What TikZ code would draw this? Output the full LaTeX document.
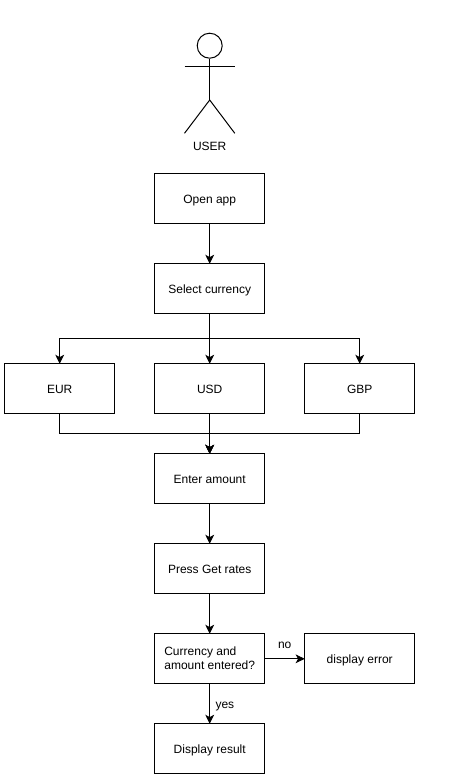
\documentclass[tikz,border=0pt]{standalone}
\usepackage{fontspec}
\setmainfont{Liberation Sans}
\usetikzlibrary{calc}
\usetikzlibrary{arrows.meta, positioning}

\begin{document}
\begin{tikzpicture}[
    x=0.75pt, y=-0.75pt,
    node distance=30pt,
    box/.style={rectangle, draw=black, line width=0.75pt, align=left, font=\fontsize{9}{10.8}\selectfont, minimum width=82.5pt, minimum height=37.5pt, inner sep=0pt, outer sep=0pt, text height=7pt, text depth=0pt},
    tag/.style={font=\fontsize{9}{10.8}\selectfont, inner sep=0pt},
    limb/.style={line width=0.75pt},
    arrow/.style={-{Stealth[length=6.8pt, width=6.6pt, inset=1.8pt]}, line width=0.75pt}
]
\useasboundingbox (0,0) rectangle (457,779);

% Actor
\node (head) [circle, draw=black, line width=0.75pt, minimum size=18.75pt, inner sep=0pt] at (209.7,45.7) {};
\coordinate (hip) at (209.7,100);
\coordinate (armLeft) at (184.5,66.8);
\coordinate (armRight) at (234.8,66.8);
\coordinate (footLeft) at (184.5,133.3);
\coordinate (footRight) at (234.8,133.3);
\node (user) [tag] at (209.7,146.5) {USER};
\draw[limb] (head.south) -- (hip);
\draw[limb] (armLeft) -- (armRight);
\draw[limb] (footLeft) -- (hip) -- (footRight);

% Nodes
\node (openApp) [box] at (209.7,198.8) {Open app};
\node (selectCurrency) [box, below=of openApp] {Select currency};

% Currency choices
\node (usd) [box, below=37.5pt of selectCurrency] {USD};
\node (eur) [box, left=of usd] {EUR};
\node (gbp) [box, right=of usd] {GBP};

\node (enterAmount) [box, below=of usd] {Enter amount};
\node (pressRates) [box, below=of enterAmount] {Press Get rates};
\node (entered) [box, below=of pressRates, text height=16.5pt] {Currency and\\amount entered?};
\node (displayError) [box, right=of entered] {display error};
\node (displayResult) [box, below=of entered] {Display result};

% Arrows
\draw[arrow] (openApp) -- (selectCurrency);
\draw[arrow] (selectCurrency) -- (usd);
\draw[arrow] (selectCurrency.south) -- ++(0,25) -| (eur.north);
\draw[arrow] (selectCurrency.south) -- ++(0,25) -| (gbp.north);
\draw[arrow] (usd) -- (enterAmount);
\draw[arrow] (eur.south) -- ++(0,20) -| (enterAmount.north);
\draw[arrow] (gbp.south) -- ++(0,20) -| (enterAmount.north);
\draw[arrow] (enterAmount) -- (pressRates);
\draw[arrow] (pressRates) -- (entered);
\draw[arrow] (entered) -- (displayError) node[tag, midway, above=7.5pt] {no};
\draw[arrow] (entered) -- (displayResult) node[tag, midway, right=4pt, yshift=-2pt] {yes};

\end{tikzpicture}
\end{document}
